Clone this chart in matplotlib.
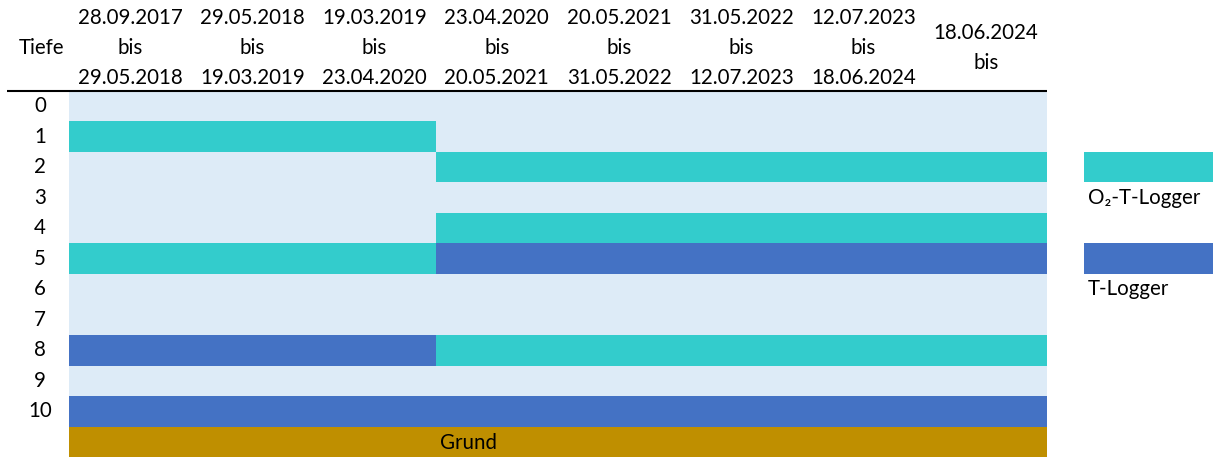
import matplotlib
matplotlib.use("Agg")
import matplotlib.pyplot as plt

# Data
period_start = ["28.09.2017", "29.05.2018", "19.03.2019", "23.04.2020",
                "20.05.2021", "31.05.2022", "12.07.2023", "18.06.2024"]
period_end = ["29.05.2018", "19.03.2019", "23.04.2020", "20.05.2021",
              "31.05.2022", "12.07.2023", "18.06.2024", ""]
depths = [0, 1, 2, 3, 4, 5, 6, 7, 8, 9, 10]
# 0 = kein Logger, 1 = O2-T-Logger, 2 = T-Logger
logger_grid = [
    [0, 0, 0, 0, 0, 0, 0, 0],  # 0
    [1, 1, 1, 0, 0, 0, 0, 0],  # 1
    [0, 0, 0, 1, 1, 1, 1, 1],  # 2
    [0, 0, 0, 0, 0, 0, 0, 0],  # 3
    [0, 0, 0, 1, 1, 1, 1, 1],  # 4
    [1, 1, 1, 2, 2, 2, 2, 2],  # 5
    [0, 0, 0, 0, 0, 0, 0, 0],  # 6
    [0, 0, 0, 0, 0, 0, 0, 0],  # 7
    [2, 2, 2, 1, 1, 1, 1, 1],  # 8
    [0, 0, 0, 0, 0, 0, 0, 0],  # 9
    [2, 2, 2, 2, 2, 2, 2, 2],  # 10
]
legend_labels = ["O\u2082-T-Logger", "T-Logger"]

BG = "#DDEBF7"
COLORS = {1: "#33CCCC", 2: "#4472C4"}
GRUND = "#BF8F00"
FONT = ["Lato", "DejaVu Sans"]
FS = 14.8

W, H = 1213, 457
COLW, ROWH = 122.25, 30.5
X0, Y0 = 69, 91  # pixel position of table corner


def px_x(p):
    return (p - X0) / COLW


def px_y(p):
    return -0.5 + (p - Y0) / ROWH


fig = plt.figure(figsize=(W / 100, H / 100), dpi=100)
ax = fig.add_axes([0, 0, 1, 1])
ax.set_xlim(px_x(0), px_x(W))
ax.set_ylim(px_y(H), px_y(0))
ax.axis("off")

ncol = len(period_start)
nrow = len(depths)

# background
ax.barh(depths, ncol, left=0, height=1, color=BG, linewidth=0)

# logger cells (merge runs)
for d, row in zip(depths, logger_grid):
    c = 0
    while c < ncol:
        code = row[c]
        e = c
        while e < ncol and row[e] == code:
            e += 1
        if code:
            ax.barh(d, e - c, left=c, height=1, color=COLORS[code], linewidth=0)
        c = e

# Grund
ax.barh(nrow, ncol, left=0, height=1, color=GRUND, linewidth=0)
ax.text(px_x(469), px_y(443), "Grund", ha="center", va="center", fontsize=FS, family=FONT)

# depth labels
for d in depths:
    ax.text(px_x(40), d, str(d), ha="center", va="center", fontsize=FS, family=FONT)

# header
ax.text(px_x(42), px_y(48), "Tiefe", ha="center", va="center", fontsize=FS, family=FONT)
for i, (s, e) in enumerate(zip(period_start, period_end)):
    cx = i + 0.5
    if e:
        lines = [(18, s), (48, "bis"), (78, e)]
    else:
        lines = [(33, s), (63, "bis")]
    for yp, t in lines:
        ax.text(cx, px_y(yp), t, ha="center", va="center", fontsize=FS, family=FONT)

ax.plot([px_x(7), ncol], [-0.5, -0.5], color="black", linewidth=1.5, solid_capstyle="butt")

# legend
leg_rows = [2, 5]
for (code, lab), r in zip(zip([1, 2], legend_labels), leg_rows):
    ax.barh(r, px_x(W) - px_x(1084), left=px_x(1084), height=1, color=COLORS[code], linewidth=0)
    ax.text(px_x(1088), r + 1, lab, ha="left", va="center", fontsize=FS, family=FONT)

fig.savefig("out.png", dpi=100)
